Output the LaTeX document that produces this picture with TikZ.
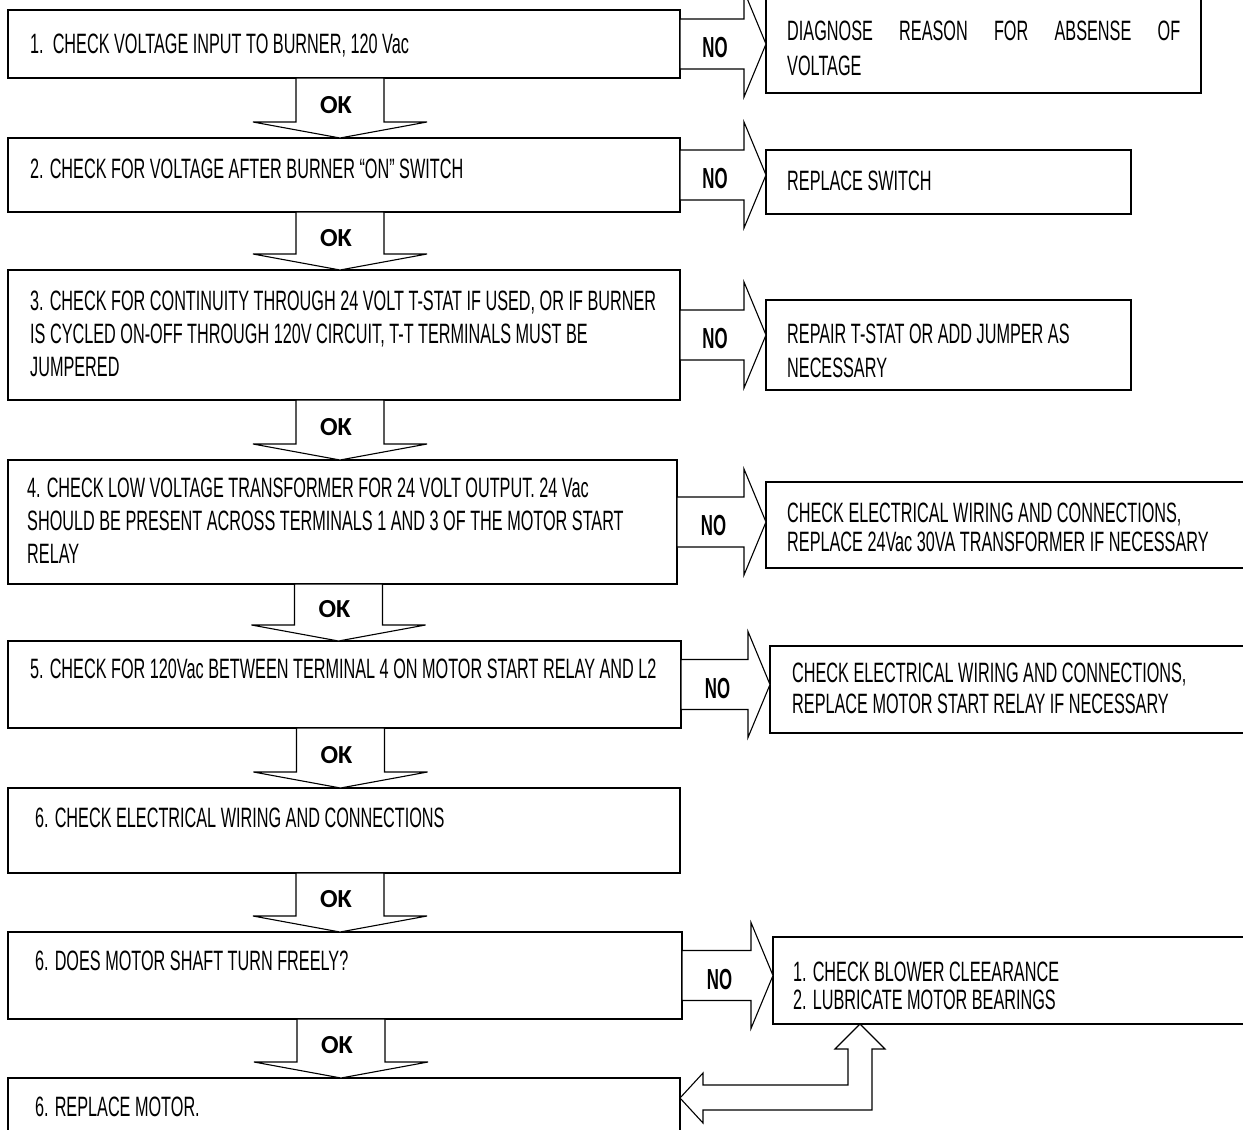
\documentclass[tikz,border=0pt]{standalone}
\usepackage{fontspec}
\usetikzlibrary{calc}
\newfontfamily\agency{Liberation Sans}[FakeStretch=0.58]
\newfontfamily\okfont{Carlito}
\tikzset{
  box/.style={draw, line width=1.6pt, fill=white, inner sep=0pt, outer sep=0pt, anchor=north west},
  blk/.style={draw, line width=1.1pt, fill=white, line join=miter},
  txt/.style={anchor=base west, inner sep=0pt, font=\agency\fontsize{28}{33}\selectfont},
  nolab/.style={font=\agency\bfseries\fontsize{29}{33}\selectfont, inner sep=0pt},
  oklab/.style={font=\okfont\bfseries\fontsize{26}{30}\selectfont, inner sep=0pt}
}
\newcommand\okarrow[3]{%
  \draw[blk] let \p1=(#1.south), \p2=(#2.north) in
    (\x1-48pt,\y1) -- (\x1-48pt,\y2+16pt) -- (\x1-91pt,\y2+16pt) -- (\x1-4pt,\y2)
    -- (\x1+83pt,\y2+16pt) -- (\x1+40pt,\y2+16pt) -- (\x1+40pt,\y1) -- cycle;
  \path let \p1=(#1.south), \p2=(#2.north) in
    node[oklab] (#3) at (\x1-8pt,{(\y1+\y2+16pt)/2-5pt}) {OK};
}
\newcommand\noarrow[3]{%
  \draw[blk] let \p1=(#1.east), \p2=(#2.west) in
    (\x1,\y1+25pt) -- (\x2-22pt,\y1+25pt) -- (\x2-22pt,\y1+53pt) -- (\x2,\y1)
    -- (\x2-22pt,\y1-53pt) -- (\x2-22pt,\y1-25pt) -- (\x1,\y1-25pt) -- cycle;
  \path let \p1=(#1.east), \p2=(#2.west) in
    node[nolab] (#3) at ({(\x1+\x2-22pt)/2+3pt},\y1-4pt) {NO};
}
\begin{document}
\begin{tikzpicture}[x=1pt,y=-1pt]
\useasboundingbox (0,0) rectangle (1243,1130);
\fill[white] (0,0) rectangle (1243,1130);

% left boxes
\node[box, minimum width=672pt, minimum height=68pt]  (b1) at (8,10)   {};
\node[box, minimum width=672pt, minimum height=74pt]  (b2) at (8,138)  {};
\node[box, minimum width=672pt, minimum height=130pt] (b3) at (8,270)  {};
\node[box, minimum width=669pt, minimum height=124pt] (b4) at (8,460)  {};
\node[box, minimum width=673pt, minimum height=87pt]  (b5) at (8,641)  {};
\node[box, minimum width=672pt, minimum height=85pt]  (b6) at (8,788)  {};
\node[box, minimum width=674pt, minimum height=87pt]  (b7) at (8,932)  {};
\node[box, minimum width=672pt, minimum height=80pt]  (b8) at (8,1078) {};

% right boxes
\node[box, minimum width=435pt, minimum height=101pt] (r1) at (766,-8)  {};
\node[box, minimum width=365pt, minimum height=64pt]  (r2) at (766,150) {};
\node[box, minimum width=365pt, minimum height=90pt]  (r3) at (766,300) {};
\node[box, minimum width=490pt, minimum height=86pt]  (r4) at (766,482) {};
\node[box, minimum width=490pt, minimum height=87pt]  (r5) at (770,646) {};
\node[box, minimum width=490pt, minimum height=87pt]  (r7) at (773,937) {};

% texts left
\node[txt] (t1)  at (30,53)   {1.\ \ CHECK VOLTAGE INPUT TO BURNER, 120 Vac};
\node[txt] (t2)  at (30,178)  {2. CHECK FOR VOLTAGE AFTER BURNER “ON” SWITCH};
\node[txt] (t3a) at (30,310)  {3. CHECK FOR CONTINUITY THROUGH 24 VOLT T-STAT IF USED, OR IF BURNER};
\node[txt] (t3b) at (30,343)  {IS CYCLED ON-OFF THROUGH 120V CIRCUIT, T-T TERMINALS MUST BE};
\node[txt] (t3c) at (30,376)  {JUMPERED};
\node[txt] (t4a) at (27,497)  {4. CHECK LOW VOLTAGE TRANSFORMER FOR 24 VOLT OUTPUT. 24 Vac};
\node[txt] (t4b) at (27,530)  {SHOULD BE PRESENT ACROSS TERMINALS 1 AND 3 OF THE MOTOR START};
\node[txt] (t4c) at (27,563)  {RELAY};
\node[txt] (t5)  at (30,678)  {5. CHECK FOR 120Vac BETWEEN TERMINAL 4 ON MOTOR START RELAY AND L2};
\node[txt] (t6)  at (35,827)  {6. CHECK ELECTRICAL WIRING AND CONNECTIONS};
\node[txt] (t7)  at (35,970)  {6. DOES MOTOR SHAFT TURN FREELY?};
\node[txt] (t8)  at (35,1116) {6. REPLACE MOTOR.};

% texts right
\node[txt] (s1a) at (787,40)   {\makebox[393pt][s]{DIAGNOSE REASON FOR ABSENSE OF}};
\node[txt] (s1b) at (787,75)   {VOLTAGE};
\node[txt] (s2)  at (787,190)  {REPLACE SWITCH};
\node[txt] (s3a) at (787,343)  {REPAIR T-STAT OR ADD JUMPER AS};
\node[txt] (s3b) at (787,377)  {NECESSARY};
\node[txt] (s4a) at (787,522)  {CHECK ELECTRICAL WIRING AND CONNECTIONS,};
\node[txt] (s4b) at (787,551)  {REPLACE 24Vac 30VA TRANSFORMER IF NECESSARY};
\node[txt] (s5a) at (792,682)  {CHECK ELECTRICAL WIRING AND CONNECTIONS,};
\node[txt] (s5b) at (792,713)  {REPLACE MOTOR START RELAY IF NECESSARY};
\node[txt] (s7a) at (793,981)  {1. CHECK BLOWER CLEEARANCE};
\node[txt] (s7b) at (793,1009) {2. LUBRICATE MOTOR BEARINGS};

% OK arrows
\okarrow{b1}{b2}{ok1}
\okarrow{b2}{b3}{ok2}
\okarrow{b3}{b4}{ok3}
\okarrow{b4}{b5}{ok4}
\okarrow{b5}{b6}{ok5}
\okarrow{b6}{b7}{ok6}
\okarrow{b7}{b8}{ok7}

% NO arrows
\noarrow{b1}{r1}{no1}
\noarrow{b2}{r2}{no2}
\noarrow{b3}{r3}{no3}
\noarrow{b4}{r4}{no4}
\noarrow{b5}{r5}{no5}
\noarrow{b7}{r7}{no7}

% elbow double arrow
\draw[blk] let \p1=(r7.south west), \p2=(b8.north east) in
  (\x1+87pt,\y1) -- (\x1+112pt,\y1-25pt) -- (\x1+99pt,\y1-25pt) -- (\x1+99pt,\y2-32pt)
  -- (\x2+23pt,\y2-32pt) -- (\x2+23pt,\y2-45pt) -- (\x2,\y2-20pt) -- (\x2+23pt,\y2+5pt)
  -- (\x2+23pt,\y2-7pt) -- (\x1+75pt,\y2-7pt) -- (\x1+75pt,\y1-25pt) -- (\x1+62pt,\y1-25pt) -- cycle;
\end{tikzpicture}
\end{document}
